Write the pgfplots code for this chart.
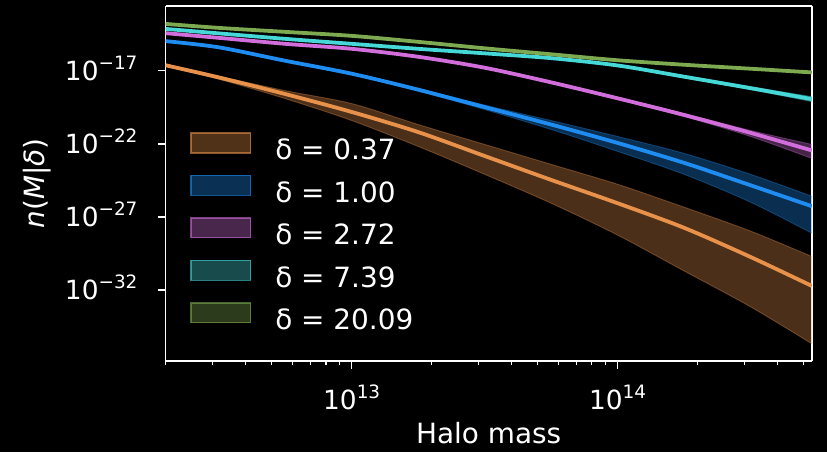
\documentclass[border=0pt]{standalone}
\usepackage{fontspec}
\setmainfont{DejaVu Sans}
\usepackage{xcolor}
\usepackage{pgfplots}
\pgfplotsset{compat=1.18}
\usepackage{pgfplotstable}
\usepgfplotslibrary{fillbetween}

\definecolor{cO}{HTML}{E8914A}
\definecolor{cB}{HTML}{1E8CF0}
\definecolor{cM}{HTML}{D26EDC}
\definecolor{cC}{HTML}{46D7D7}
\definecolor{cG}{HTML}{7DAA50}

\newcommand\tickfont{\fontsize{26.5}{30}\selectfont}
\newcommand\labfont{\fontsize{28}{32}\selectfont}
\newcommand\sups[1]{\raisebox{0.42em}{\fontsize{18.5}{20}\selectfont #1}}

% log10(M)  log10 n: centre, upper, lower
\pgfplotstableread{
lm c u l
12.30 -16.625 -16.591 -16.693
12.50 -17.457 -17.375 -17.579
12.75 -18.595 -18.363 -18.909
13.00 -19.822 -19.250 -20.409
13.25 -21.200 -20.682 -22.181
13.50 -22.836 -22.045 -24.090
13.75 -24.472 -23.409 -26.068
14.00 -26.068 -24.772 -28.249
14.25 -27.752 -26.340 -30.704
14.50 -29.749 -27.977 -33.158
14.73 -31.727 -29.715 -35.681
}\tO
\pgfplotstableread{
lm c u l
12.30 -14.975 -14.955 -14.995
12.50 -15.398 -15.378 -15.418
12.75 -16.318 -16.298 -16.338
13.00 -17.204 -17.180 -17.230
13.25 -18.295 -18.227 -18.397
13.50 -19.488 -19.352 -19.659
13.75 -20.682 -20.409 -21.022
14.00 -21.943 -21.500 -22.522
14.25 -23.306 -22.659 -24.091
14.50 -24.840 -24.091 -25.999
14.73 -26.272 -25.590 -28.113
}\tB
\pgfplotstableread{
lm c u l
12.30 -14.429 -14.409 -14.449
12.50 -14.750 -14.730 -14.770
12.75 -15.159 -15.139 -15.179
13.00 -15.500 -15.480 -15.520
13.25 -16.045 -16.020 -16.070
13.50 -16.795 -16.765 -16.825
13.75 -17.797 -17.747 -17.847
14.00 -18.888 -18.818 -18.958
14.25 -20.027 -19.931 -20.136
14.50 -21.254 -21.090 -21.500
14.73 -22.454 -22.045 -23.000
}\tM
\pgfplotstableread{
lm c u l
12.30 -14.136 -14.116 -14.156
12.50 -14.443 -14.423 -14.463
12.75 -14.818 -14.798 -14.838
13.00 -15.159 -15.139 -15.179
13.25 -15.500 -15.475 -15.525
13.50 -15.810 -15.780 -15.840
13.75 -16.140 -16.100 -16.180
14.00 -16.640 -16.590 -16.690
14.25 -17.409 -17.329 -17.489
14.50 -18.193 -18.093 -18.293
14.73 -18.943 -18.773 -19.113
}\tC
\pgfplotstableread{
lm c u l
12.30 -13.795 -13.765 -13.825
12.50 -14.068 -14.038 -14.098
12.75 -14.341 -14.311 -14.371
13.00 -14.613 -14.583 -14.643
13.25 -15.023 -14.993 -15.053
13.50 -15.466 -15.431 -15.501
13.75 -15.875 -15.835 -15.915
14.00 -16.284 -16.239 -16.329
14.25 -16.591 -16.541 -16.641
14.50 -16.863 -16.808 -16.918
14.73 -17.116 -17.056 -17.176
}\tG

\pgfplotsset{
  patch/.style={legend image code/.code={\draw[fill=#1, fill opacity=0.35, draw=#1, draw opacity=0.6, line width=1.2pt] (0pt,0pt) rectangle (60pt,20pt);}},
  edge/.style={#1, draw opacity=0.35, line width=0.9pt, smooth, forget plot},
  band/.style={fill=#1, fill opacity=0.33, draw=none, forget plot},
  mid/.style={#1, line width=3.8pt, smooth, forget plot},
}

\begin{document}
\pagecolor{black}
\begin{tikzpicture}
\begin{axis}[
  at={(0pt,0pt)}, anchor=south west,
  width=648.7pt, height=356.5pt, scale only axis,
  xmin=12.30, xmax=14.73, ymin=-36.874, ymax=-12.568,
  separate axis lines,
  axis line style={draw=white, line width=1.6pt},
  tick align=outside, tick pos=left,
  major tick length=8pt, minor tick length=4pt,
  tick style={draw=white, line width=1.5pt},
  minor tick style={draw=white, line width=1.2pt},
  xtick={13,14},
  xticklabels={10\sups{13},10\sups{14}},
  minor xtick={12.30103,12.47712,12.60206,12.69897,12.77815,12.84510,12.90309,12.95424,13.30103,13.47712,13.60206,13.69897,13.77815,13.84510,13.90309,13.95424,14.30103,14.47712,14.60206,14.69897},
  ytick={-32,-27,-22,-17},
  yticklabels={10\sups{−32},10\sups{−27},10\sups{−22},10\sups{−17}},
  xticklabel style={font=\tickfont, text=white, anchor=base, inner sep=0pt, yshift=-41pt},
  yticklabel style={font=\tickfont, text=white, anchor=base east, inner sep=0pt, xshift=-20pt, yshift=-10pt},
  xlabel={Halo mass},
  ylabel={\itshape n\upshape(\itshape M\upshape|\itshape δ\upshape)},
  every axis x label/.style={at={(axis description cs:0.5,-0.2314)}, anchor=base, font=\labfont, text=white},
  every axis y label/.style={at={(axis description cs:-0.1989,0.5)}, rotate=90, anchor=center, font=\labfont, text=white},
  legend cell align=left,
  legend style={at={(rel axis cs:0.0385,0.644)}, anchor=north west, draw=none, fill=none,
    text=white, font=\labfont, row sep=8.05pt, inner sep=0pt, outer sep=0pt,
    nodes={inner sep=0pt, text height=21pt, text depth=7pt},
    /tikz/every odd column/.append style={column sep=24pt}},
]
% delta = 0.37
\addplot[edge=cO, name path=oU] table[x=lm,y=u]{\tO};
\addplot[edge=cO, name path=oL] table[x=lm,y=l]{\tO};
\addplot[band=cO] fill between[of=oU and oL];
\addplot[mid=cO] table[x=lm,y=c]{\tO};
% delta = 1.00
\addplot[edge=cB, name path=bU] table[x=lm,y=u]{\tB};
\addplot[edge=cB, name path=bL] table[x=lm,y=l]{\tB};
\addplot[band=cB] fill between[of=bU and bL];
\addplot[mid=cB] table[x=lm,y=c]{\tB};
% delta = 2.72
\addplot[edge=cM, name path=mU] table[x=lm,y=u]{\tM};
\addplot[edge=cM, name path=mL] table[x=lm,y=l]{\tM};
\addplot[band=cM] fill between[of=mU and mL];
\addplot[mid=cM] table[x=lm,y=c]{\tM};
% delta = 7.39
\addplot[edge=cC, name path=cU] table[x=lm,y=u]{\tC};
\addplot[edge=cC, name path=cL] table[x=lm,y=l]{\tC};
\addplot[band=cC] fill between[of=cU and cL];
\addplot[mid=cC] table[x=lm,y=c]{\tC};
% delta = 20.09
\addplot[edge=cG, name path=gU] table[x=lm,y=u]{\tG};
\addplot[edge=cG, name path=gL] table[x=lm,y=l]{\tG};
\addplot[band=cG] fill between[of=gU and gL];
\addplot[mid=cG] table[x=lm,y=c]{\tG};

\addlegendimage{patch=cO}\addlegendentry{δ = 0.37}
\addlegendimage{patch=cB}\addlegendentry{δ = 1.00}
\addlegendimage{patch=cM}\addlegendentry{δ = 2.72}
\addlegendimage{patch=cC}\addlegendentry{δ = 7.39}
\addlegendimage{patch=cG}\addlegendentry{δ = 20.09}
\end{axis}
\pgfresetboundingbox
\path[use as bounding box] (-163pt,-91.5pt) rectangle (664pt,362.5pt);
\end{tikzpicture}
\end{document}
